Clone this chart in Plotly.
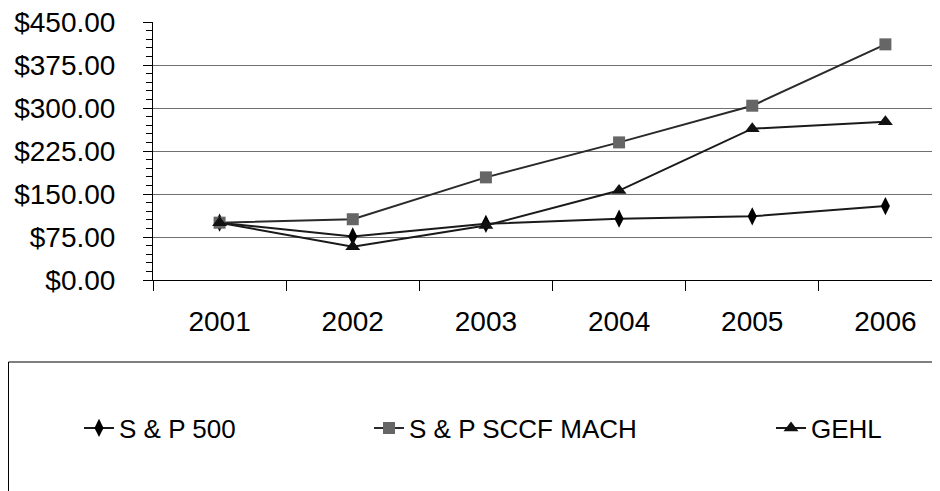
import plotly.graph_objects as go

years = ["2001", "2002", "2003", "2004", "2005", "2006"]
sp500 = [100, 76, 98, 107, 111, 129]
sccf_mach = [100, 106, 179, 240, 304, 411]
gehl = [100, 58, 95, 156, 264, 276]

OFF = 8  # default page body margin
W, H = 940 - OFF, 491 - OFF
# plot area in page pixels
L, R, T, B = 153, 940, 22, 280
pw, ph = R - L, B - T

def px(x):
    return (x - L) / pw

def py(y):
    return (B - y) / ph

FONT = "Liberation Sans, Arial, sans-serif"

fig = go.Figure()
fig.add_trace(go.Scatter(
    x=years, y=sp500, name="S & P 500", mode="lines+markers",
    line=dict(color="#1a1a1a", width=2),
    marker=dict(symbol="diamond-tall", size=13, color="#000000"),
    legend="legend", showlegend=True))
fig.add_trace(go.Scatter(
    x=years, y=sccf_mach, name="S & P SCCF MACH", mode="lines+markers",
    line=dict(color="#2a2a2a", width=2),
    marker=dict(symbol="square", size=12, color="#666666"),
    legend="legend2", showlegend=True))
fig.add_trace(go.Scatter(
    x=years, y=gehl, name="GEHL", mode="lines+markers",
    line=dict(color="#1a1a1a", width=2),
    marker=dict(symbol="triangle-up", size=13, color="#111111"),
    legend="legend3", showlegend=True))

legend_common = dict(orientation="h", yanchor="middle", xanchor="left",
                     font=dict(family=FONT, size=26, color="#000"),
                     bgcolor="rgba(0,0,0,0)", borderwidth=0)

fig.update_layout(
    width=W, height=H, showlegend=True,
    margin=dict(l=L - OFF, r=W - (R - OFF), t=T - OFF, b=H - (B - OFF),
                pad=0, autoexpand=False),
    paper_bgcolor="white", plot_bgcolor="white",
    font=dict(family=FONT, size=28, color="#000"),
    legend=dict(x=px(79), y=py(428), **legend_common),
    legend2=dict(x=px(369), y=py(428), **legend_common),
    legend3=dict(x=px(771), y=py(428), **legend_common),
    xaxis=dict(
        type="category", range=[-0.5, 5.41],
        showline=True, linecolor="#000", linewidth=1,
        ticks="outside", tickson="boundaries", ticklen=10, tickcolor="#000",
        showgrid=False, ticklabelstandoff=16, automargin=False,
        tickfont=dict(family=FONT, size=28, color="#000"),
    ),
    yaxis=dict(
        range=[0, 450], dtick=75, tick0=0,
        tickprefix="$", tickformat=".2f",
        showline=True, linecolor="#000", linewidth=1,
        ticks="outside", ticklen=9, tickcolor="#000",
        showgrid=True, gridcolor="#707070", gridwidth=1.2,
        zeroline=False, ticklabelstandoff=22, automargin=False,
        ticklabeloverflow="allow",
        tickfont=dict(family=FONT, size=28, color="#000"),
        minor=dict(dtick=15, ticks="outside", ticklen=6, tickcolor="#000",
                   showgrid=False),
    ),
    shapes=[dict(type="rect", xref="paper", yref="paper",
                 x0=px(8.5), x1=px(950), y0=py(362), y1=py(500),
                 line=dict(color="#000", width=1), fillcolor="rgba(0,0,0,0)",
                 layer="below")],
)

fig.write_html("out.html")
